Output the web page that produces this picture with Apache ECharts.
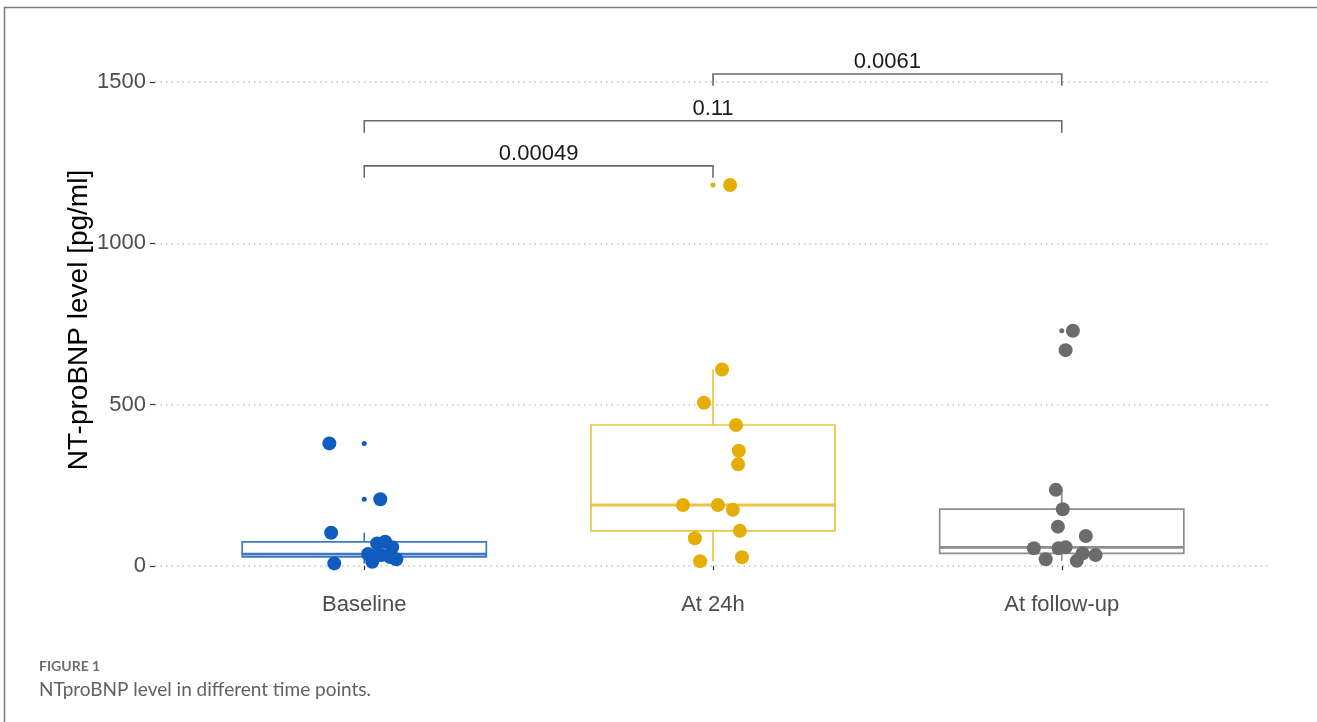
<!DOCTYPE html>
<html>
<head>
<meta charset="utf-8">
<script src="https://cdn.jsdelivr.net/npm/echarts@6/dist/echarts.min.js"></script>
<style>
  html, body { margin: 0; padding: 0; background: #ffffff; }
  #chart { width: 1317px; height: 722px; }
</style>
</head>
<body>
<div id="chart"></div>
<script>
// Time points (x positions 1, 2, 3 on the value axis)
const categories = ['Baseline', 'At 24h', 'At follow-up'];

// NT-proBNP measurements (pg/ml) and their horizontal jitter positions
const baselineValues = [380, 207, 103, 8, 75, 70, 58, 37, 34, 31, 28, 21, 13];
const baselineJitterX = [0.900, 1.046, 0.905, 0.914, 1.060, 1.037, 1.080, 1.011, 1.049, 1.032, 1.074, 1.092, 1.023];

const h24Values = [1181, 609, 506, 437, 357, 315, 189, 189, 174, 109, 86, 15, 27];
const h24JitterX = [2.049, 2.026, 1.974, 2.066, 2.074, 2.072, 1.914, 2.014, 2.057, 2.077, 1.948, 1.963, 2.083];

const followUpValues = [729, 669, 236, 176, 122, 93, 55, 55, 58, 39, 34, 21, 16];
const followUpJitterX = [3.032, 3.011, 2.983, 3.003, 2.989, 3.069, 2.920, 2.991, 3.011, 3.060, 3.097, 2.954, 3.043];

// Pairwise comparison p-values
const bracketFrom = [1, 1, 2];
const bracketTo = [2, 3, 3];
const bracketY = [1240, 1380, 1525];
const bracketLabels = ['0.00049', '0.11', '0.0061'];

// Y axis ticks
const yTicks = [0, 500, 1000, 1500];

const groups = [
  { values: baselineValues, xs: baselineJitterX, dot: '#0F5BBE', box: '#3D78C2' },
  { values: h24Values, xs: h24JitterX, dot: '#E6AE05', box: '#EAC445' },
  { values: followUpValues, xs: followUpJitterX, dot: '#6B6B6B', box: '#8E8E8E' }
];

const FONT = 'Liberation Sans';
const CAPTION_FONT = 'Lato';
const BOX_HALF = 0.35;
const BRACKET_TIP = 37;

// Type-7 quantile, whiskers to the furthest point within 1.5 IQR
function quantile(sorted, p) {
  const h = (sorted.length - 1) * p;
  const lo = Math.floor(h);
  const hi = Math.ceil(h);
  return sorted[lo] + (h - lo) * (sorted[hi] - sorted[lo]);
}
function boxStats(values) {
  const s = values.slice().sort((a, b) => a - b);
  const q1 = quantile(s, 0.25), med = quantile(s, 0.5), q3 = quantile(s, 0.75);
  const iqr = q3 - q1;
  const inside = s.filter(v => v >= q1 - 1.5 * iqr && v <= q3 + 1.5 * iqr);
  const outliers = s.filter(v => v < q1 - 1.5 * iqr || v > q3 + 1.5 * iqr);
  return { lo: inside[0], q1, med, q3, hi: inside[inside.length - 1], outliers };
}

const stats = groups.map(g => boxStats(g.values));

const series = [];

// Boxes and whiskers
series.push({
  type: 'custom',
  z: 2,
  clip: false,
  data: stats.map((st, i) => [i + 1, st.lo, st.q1, st.med, st.q3, st.hi]),
  renderItem(params, api) {
    const i = params.dataIndex;
    const color = groups[i].box;
    const cx = api.value(0);
    const xl = api.coord([cx - BOX_HALF, 0])[0];
    const xr = api.coord([cx + BOX_HALF, 0])[0];
    const xc = api.coord([cx, 0])[0];
    const yLo = api.coord([cx, api.value(1)])[1];
    const yQ1 = api.coord([cx, api.value(2)])[1];
    const yMed = api.coord([cx, api.value(3)])[1];
    const yQ3 = api.coord([cx, api.value(4)])[1];
    const yHi = api.coord([cx, api.value(5)])[1];
    const lineStyle = { stroke: color, lineWidth: 1.7, fill: null };
    return {
      type: 'group',
      children: [
        { type: 'line', shape: { x1: xc, y1: yQ3, x2: xc, y2: yHi }, style: lineStyle },
        { type: 'line', shape: { x1: xc, y1: yQ1, x2: xc, y2: yLo }, style: lineStyle },
        { type: 'rect', shape: { x: xl, y: yQ3, width: xr - xl, height: yQ1 - yQ3 },
          style: { stroke: color, lineWidth: 1.7, fill: '#ffffff' } },
        { type: 'line', shape: { x1: xl, y1: yMed, x2: xr, y2: yMed },
          style: { stroke: color, lineWidth: 2.8 } }
      ]
    };
  }
});

// Outlier markers of the boxplots
groups.forEach((g, i) => {
  series.push({
    type: 'scatter',
    z: 3,
    clip: false,
    symbolSize: 5,
    itemStyle: { color: g.dot, opacity: 1 },
    data: stats[i].outliers.map(v => [i + 1, v]),
    silent: true
  });
});

// Individual measurements
groups.forEach(g => {
  series.push({
    type: 'scatter',
    z: 4,
    clip: false,
    symbolSize: 14,
    itemStyle: { color: g.dot, opacity: 1 },
    data: g.values.map((v, k) => [g.xs[k], v]),
    silent: true
  });
});

// Significance brackets
series.push({
  type: 'custom',
  z: 5,
  clip: false,
  data: bracketLabels.map((_, k) => [bracketFrom[k], bracketTo[k], bracketY[k]]),
  renderItem(params, api) {
    const k = params.dataIndex;
    const y = api.value(2);
    const p1 = api.coord([api.value(0), y]);
    const p2 = api.coord([api.value(1), y]);
    const tipEnd = api.coord([api.value(0), y - BRACKET_TIP])[1];
    return {
      type: 'group',
      children: [
        { type: 'polyline',
          shape: { points: [[p1[0], tipEnd], [p1[0], p1[1]], [p2[0], p2[1]], [p2[0], tipEnd]] },
          style: { stroke: '#6a6a6a', lineWidth: 1.6, fill: null } },
        { type: 'text', x: (p1[0] + p2[0]) / 2, y: p1[1] - 1,
          style: { text: bracketLabels[k], fontSize: 22, fontFamily: FONT, fill: '#1a1a1a',
                   align: 'center', verticalAlign: 'bottom' } }
      ]
    };
  }
});

const chart = echarts.init(document.getElementById('chart'), null, { renderer: 'canvas' });
chart.setOption({
  backgroundColor: '#ffffff',
  animation: false,
  textStyle: { fontFamily: FONT },
  grid: { left: 155, right: 46, top: 82, bottom: 156, containLabel: false },
  xAxis: {
    type: 'value',
    min: 0.4,
    max: 3.6,
    offset: 20,
    axisLine: { show: false },
    splitLine: { show: false },
    axisTick: { show: true, length: 4, customValues: [1, 2, 3], lineStyle: { color: '#333333', width: 1.2 } },
    axisLabel: {
      customValues: [1, 2, 3],
      formatter: v => categories[Math.round(v) - 1] || '',
      fontSize: 22, fontFamily: FONT, color: '#4d4d4d', margin: 8
    }
  },
  yAxis: {
    type: 'value',
    min: yTicks[0],
    max: yTicks[yTicks.length - 1],
    interval: 500,
    axisLine: { show: false },
    axisTick: { show: true, length: 5, lineStyle: { color: '#333333', width: 1.2 } },
    axisLabel: { fontSize: 22, fontFamily: FONT, color: '#4d4d4d', margin: 9, formatter: v => String(v) },
    splitLine: { show: true, lineStyle: { color: '#c4c4c4', width: 1.5, type: [1.5, 4] } }
  },
  graphic: [
    { type: 'polyline', z: 10,
      shape: { points: [[4.5, 722], [4.5, 7.5], [1317, 7.5]] },
      style: { stroke: '#7a7a7a', lineWidth: 1.5, fill: null } },
    { type: 'text', x: 79, y: 320, rotation: Math.PI / 2,
      style: { text: 'NT-proBNP level [pg/ml]', fontSize: 28, fontFamily: FONT, fill: '#000000',
               align: 'center', verticalAlign: 'middle' } },
    { type: 'text', x: 39, y: 666,
      style: { text: 'FIGURE 1', fontSize: 14, fontWeight: 'bold', fontFamily: CAPTION_FONT,
               fill: '#6d6d6d', align: 'left', verticalAlign: 'middle' } },
    { type: 'text', x: 39, y: 690,
      style: { text: 'NTproBNP level in different time points.', fontSize: 19,
               fontFamily: CAPTION_FONT, fill: '#626262', align: 'left', verticalAlign: 'middle' } }
  ],
  series
});
</script>
</body>
</html>
